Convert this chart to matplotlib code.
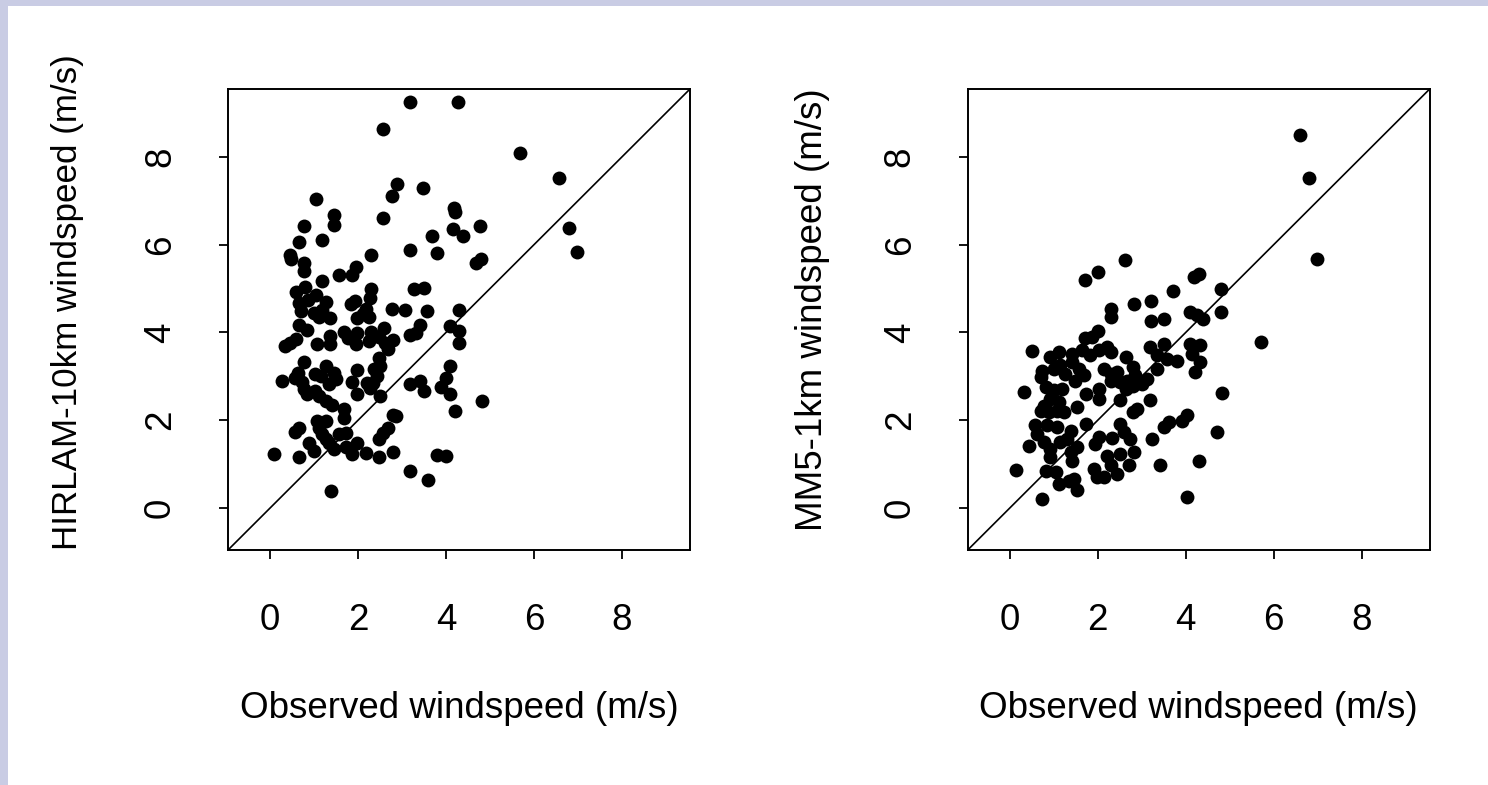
import matplotlib

matplotlib.use("Agg")
import matplotlib.pyplot as plt
from matplotlib.patches import Rectangle

# Observed vs. modelled 10 m windspeed (m/s).
hirlam_obs = [
    3.17, 4.27, 2.56, 5.69, 6.58, 2.89, 2.77, 3.47, 1.05, 4.18, 4.20, 1.46, 1.46, 2.56,
    0.76, 4.78, 4.16, 4.39, 3.68, 6.79, 1.18, 0.66, 6.98, 3.18, 3.79, 2.29, 0.45, 0.47,
    4.79, 4.69, 0.76, 0.77, 1.95, 1.87, 1.56, 1.18, 3.28, 3.49, 2.29, 2.27, 0.59, 0.79,
    1.05, 1.27, 0.65, 0.69, 0.99, 1.18, 1.11, 1.37, 0.86, 1.93, 1.83, 2.18, 2.10, 1.98,
    2.25, 2.77, 3.07, 3.57, 4.29, 3.40, 3.31, 3.19, 4.08, 4.30, 4.29, 2.58, 0.66, 0.84,
    0.59, 0.46, 0.34, 1.07, 1.36, 1.36, 1.68, 1.76, 1.96, 1.98, 2.29, 2.25, 2.48, 2.61,
    2.79, 2.67, 2.47, 2.50, 2.37, 2.42, 2.33, 2.27, 2.50, 0.78, 0.63, 0.57, 0.27, 0.73,
    0.76, 0.84, 1.03, 1.11, 1.26, 1.40, 1.03, 1.26, 1.45, 1.50, 1.34, 1.15, 1.98, 1.87,
    1.98, 2.21, 3.17, 3.40, 3.51, 4.08, 4.01, 3.89, 4.08, 4.81, 4.20, 1.69, 1.69, 2.79,
    2.86, 2.69, 2.56, 2.48, 0.65, 0.57, 1.07, 1.26, 1.11, 1.18, 1.26, 1.56, 1.72, 0.88,
    0.99, 1.45, 1.72, 1.98, 1.87, 2.19, 2.48, 2.79, 0.08, 0.66, 3.79, 4.01, 3.18, 3.59,
    1.39, 1.34,
]
hirlam_wind = [
    9.25, 9.25, 8.64, 8.08, 7.52, 7.39, 7.12, 7.30, 7.05, 6.83, 6.74, 6.67, 6.44, 6.61,
    6.42, 6.42, 6.36, 6.19, 6.20, 6.39, 6.11, 6.06, 5.84, 5.87, 5.82, 5.76, 5.76, 5.68,
    5.68, 5.58, 5.58, 5.41, 5.49, 5.32, 5.30, 5.17, 4.98, 5.02, 4.98, 4.79, 4.92, 5.04,
    4.86, 4.69, 4.67, 4.48, 4.45, 4.52, 4.36, 4.33, 4.75, 4.71, 4.64, 4.54, 4.41, 4.33,
    4.36, 4.54, 4.52, 4.50, 4.52, 4.18, 3.99, 3.95, 4.14, 4.03, 3.75, 4.10, 4.16, 4.05,
    3.84, 3.76, 3.69, 3.74, 3.93, 3.73, 4.01, 3.88, 3.73, 3.98, 4.01, 3.80, 3.90, 3.76,
    3.82, 3.63, 3.42, 3.23, 3.16, 3.01, 2.84, 2.74, 2.55, 3.32, 3.08, 2.97, 2.89, 2.86,
    2.70, 2.59, 2.67, 2.55, 2.44, 2.34, 3.05, 3.23, 3.08, 2.93, 2.82, 3.01, 3.14, 2.86,
    2.59, 2.84, 2.82, 2.89, 2.67, 3.23, 2.97, 2.76, 2.59, 2.44, 2.21, 2.25, 2.04, 2.11,
    2.10, 1.83, 1.70, 1.57, 1.83, 1.72, 1.98, 1.98, 1.83, 1.68, 1.57, 1.68, 1.70, 1.49,
    1.30, 1.34, 1.38, 1.47, 1.23, 1.26, 1.17, 1.28, 1.23, 1.17, 1.21, 1.19, 0.83, 0.64,
    0.39, 1.49,
]

mm5_obs = [
    6.60, 6.80, 6.99, 5.71, 2.62, 2.01, 1.70, 4.19, 4.31, 4.80, 3.70, 2.82, 3.21, 2.30,
    2.30, 4.80, 3.22, 3.50, 4.10, 4.25, 4.40, 2.01, 1.87, 1.70, 0.51, 1.11, 0.92, 1.42,
    1.64, 1.83, 2.02, 2.21, 2.29, 2.63, 3.19, 3.50, 3.34, 3.57, 3.80, 4.10, 4.33, 4.14,
    4.33, 4.21, 3.34, 3.12, 2.81, 2.85, 0.73, 0.70, 1.00, 1.15, 1.26, 1.42, 1.57, 1.68,
    1.49, 2.13, 2.29, 2.44, 2.29, 2.51, 2.66, 2.81, 3.00, 0.81, 1.00, 1.19, 0.92, 1.11,
    0.77, 0.70, 0.89, 1.07, 1.23, 0.32, 1.72, 2.02, 2.02, 2.51, 2.63, 3.19, 1.53, 2.89,
    2.81, 4.82, 0.58, 0.85, 1.07, 1.38, 1.30, 1.15, 0.77, 0.62, 0.43, 0.92, 1.53, 1.38,
    1.72, 0.13, 0.92, 0.81, 1.04, 1.42, 1.11, 1.34, 1.45, 1.53, 0.73, 2.02, 1.94, 2.32,
    2.51, 2.59, 2.74, 2.21, 2.51, 2.83, 2.29, 2.44, 2.70, 1.91, 1.98, 2.13, 3.23, 3.50,
    3.61, 3.91, 4.03, 3.42, 4.71, 4.31, 4.03,
]
mm5_wind = [
    8.49, 7.51, 5.67, 3.78, 5.66, 5.37, 5.19, 5.27, 5.34, 5.00, 4.94, 4.65, 4.71, 4.54,
    4.35, 4.47, 4.25, 4.30, 4.46, 4.39, 4.31, 4.03, 3.89, 3.88, 3.57, 3.55, 3.44, 3.51,
    3.59, 3.48, 3.59, 3.67, 3.55, 3.44, 3.67, 3.74, 3.48, 3.40, 3.36, 3.74, 3.72, 3.51,
    3.32, 3.10, 3.17, 2.94, 3.21, 3.02, 3.13, 2.98, 3.17, 3.25, 3.06, 3.32, 3.17, 3.02,
    2.90, 3.17, 3.06, 3.10, 2.90, 2.87, 2.90, 2.79, 2.83, 2.75, 2.68, 2.71, 2.49, 2.41,
    2.33, 2.22, 2.18, 2.22, 2.18, 2.64, 2.60, 2.71, 2.49, 2.45, 2.71, 2.47, 2.30, 2.26,
    2.18, 2.62, 1.88, 1.88, 1.84, 1.76, 1.57, 1.50, 1.50, 1.69, 1.42, 1.35, 1.38, 1.27,
    1.92, 0.87, 1.16, 0.85, 0.81, 1.08, 0.55, 0.62, 0.66, 0.40, 0.21, 1.61, 1.46, 1.59,
    1.92, 1.73, 1.57, 1.19, 1.23, 1.27, 0.97, 0.78, 0.97, 0.89, 0.70, 0.70, 1.57, 1.84,
    1.95, 1.99, 2.11, 0.97, 1.74, 1.06, 0.24,
]

ticks = [0, 2, 4, 6, 8]
lim = (-0.96, 9.55)
xlabel = "Observed windspeed (m/s)"

W, H = 1488, 785
plt.rcParams["font.family"] = ["Liberation Sans", "DejaVu Sans"]

fig = plt.figure(figsize=(W / 100, H / 100), dpi=100)
fig.patch.set_facecolor("#c9cce4")
# white page over the lavender slide background (kept behind the axes)
fig.patches.append(Rectangle((8 / W, 0), 1, 1 - 6 / H, transform=fig.transFigure,
                             facecolor="white", edgecolor="none", zorder=-10))

panels = [
    (228, hirlam_obs, hirlam_wind, "HIRLAM-10km windspeed (m/s)", 68, 302, 25.2),
    (967.7, mm5_obs, mm5_wind, "MM5-1km windspeed (m/s)", 813, 310, 26.5),
]

for left, obs, model, ylabel, lab_x, lab_y, lab_fs in panels:
    ax = fig.add_axes([left / W, 1 - 550 / H, 462 / W, 461 / H], zorder=2)
    ax.set_facecolor("white")
    ax.plot(obs, model, "o", color="black", ms=10, mew=0, zorder=3)
    ax.axline((0, 0), slope=1, color="black", lw=1.2, zorder=2)
    ax.set_xlim(*lim)
    ax.set_ylim(*lim)
    ax.set_xticks(ticks)
    ax.set_yticks(ticks)
    for sp in ax.spines.values():
        sp.set_linewidth(1.4)
    ax.tick_params(direction="out", length=6.5, width=1.3, labelsize=26.5)
    ax.tick_params(axis="x", pad=32)
    ax.tick_params(axis="y", pad=29.5)
    for lab in ax.get_yticklabels():
        lab.set_rotation(90)
        lab.set_verticalalignment("center")
    cx = (left + 231) / W
    fig.text(cx, 1 - 709 / H, xlabel, ha="center", va="center", fontsize=26.5)
    fig.text(lab_x / W, 1 - lab_y / H, ylabel, ha="center", va="center",
             rotation=90, fontsize=lab_fs)

fig.savefig("out.png", dpi=100, facecolor=fig.get_facecolor())
